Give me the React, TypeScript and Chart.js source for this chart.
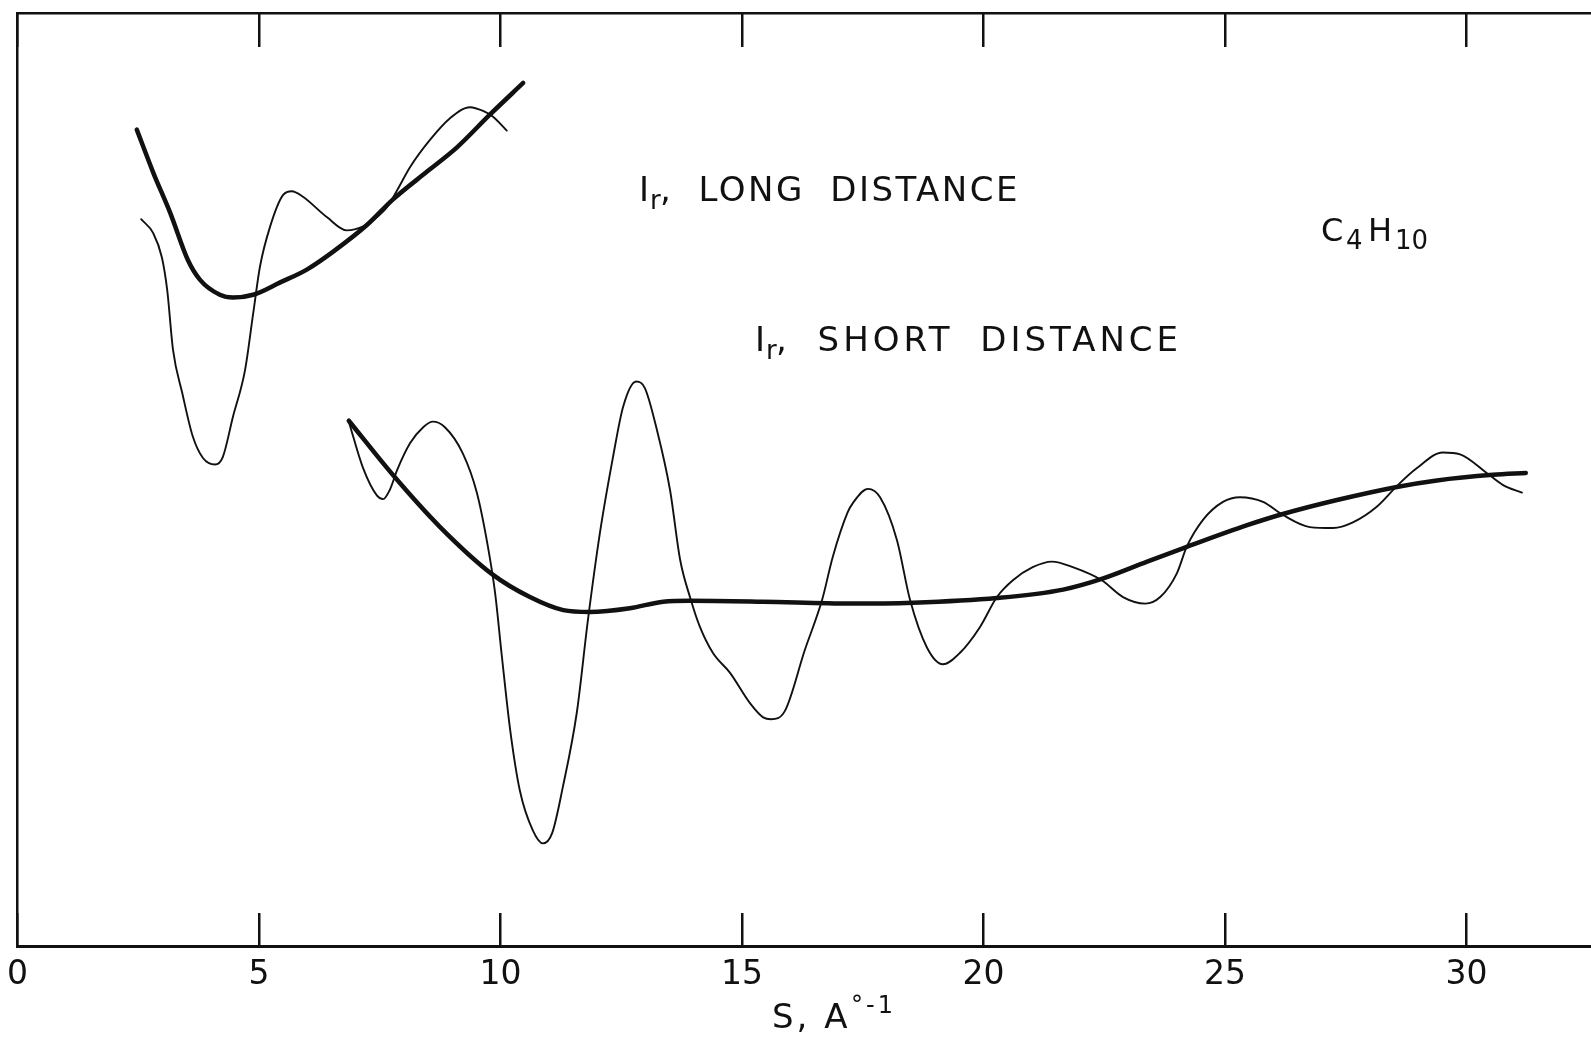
import React, { useEffect, useRef } from 'react';
import { Chart, registerables } from 'chart.js';

Chart.register(...registerables);

// x axis: S (A^-1); y axis: relative intensity (arbitrary units, no ticks)
const xTickValues = [0, 5, 10, 15, 20, 25, 30];
const xTickLabels = ['0', '5', '10', '15', '20', '25', '30'];

// I_r, long distance — smooth (thick) background curve
const longThickS = [2.47, 2.81, 3.16, 3.53, 3.78, 4.19, 4.46, 4.88, 5.43, 5.99, 6.53, 7.24, 7.77, 8.48, 9.10, 9.78, 10.47];
const longThickI = [87.5, 82.9, 78.6, 73.5, 71.4, 69.8, 69.5, 69.8, 71.1, 72.5, 74.4, 77.3, 80.0, 83.0, 85.6, 89.1, 92.5];

// I_r, long distance — observed (thin) curve
const longThinS = [2.56, 2.81, 2.99, 3.10, 3.22, 3.41, 3.63, 3.84, 4.09, 4.25, 4.46, 4.71, 4.88, 5.02, 5.23, 5.50, 5.68, 5.91, 6.41, 6.82, 7.15, 7.36, 7.65, 7.86, 8.13, 8.54, 8.95, 9.37, 9.64, 9.84, 10.13];
const longThinI = [77.9, 76.4, 73.8, 70.3, 63.9, 59.3, 54.6, 52.3, 51.6, 52.4, 56.7, 61.7, 67.8, 72.8, 77.1, 80.5, 80.9, 80.3, 78.1, 76.7, 77.1, 77.8, 79.2, 81.0, 83.5, 86.4, 88.7, 89.9, 89.5, 88.9, 87.4];

// I_r, short distance — observed (thin) curve
const shortThinS = [6.86, 7.15, 7.44, 7.57, 7.71, 7.86, 8.13, 8.40, 8.60, 8.85, 9.22, 9.51, 9.74, 9.89, 10.03, 10.20, 10.40, 10.67, 10.88, 11.07, 11.29, 11.58, 11.81, 12.06, 12.33, 12.54, 12.81, 12.99, 13.24, 13.51, 13.72, 13.93, 14.13, 14.40, 14.75, 15.17, 15.44, 15.60, 15.89, 16.30, 16.66, 16.88, 17.19, 17.30, 17.61, 17.86, 18.21, 18.48, 18.83, 19.16, 19.51, 19.93, 20.28, 20.61, 21.02, 21.42, 21.85, 22.45, 22.89, 23.35, 23.66, 24.01, 24.21, 24.55, 24.96, 25.31, 25.79, 26.20, 26.76, 27.24, 27.65, 28.15, 28.58, 28.97, 29.51, 29.87, 30.42, 30.76, 31.15];
const shortThinI = [56.2, 51.3, 48.3, 47.9, 48.9, 51.0, 53.9, 55.6, 56.2, 55.6, 52.8, 48.6, 42.8, 37.8, 31.0, 23.2, 16.7, 12.4, 11.0, 12.1, 17.0, 25.0, 34.9, 44.3, 52.4, 57.8, 60.5, 59.8, 55.3, 48.9, 41.4, 37.3, 34.2, 31.4, 29.3, 26.0, 24.5, 24.3, 25.2, 31.7, 37.1, 41.7, 46.5, 47.5, 49.0, 48.1, 43.5, 37.1, 32.0, 30.2, 31.4, 34.2, 37.4, 39.2, 40.6, 41.2, 40.6, 39.2, 37.4, 36.7, 37.4, 40.0, 42.8, 45.7, 47.6, 48.1, 47.6, 46.2, 44.9, 44.8, 45.4, 47.1, 49.4, 51.2, 52.9, 52.7, 50.7, 49.4, 48.6];

// I_r, short distance — smooth (thick) background curve
const shortThickS = [6.86, 7.77, 8.75, 9.84, 10.61, 11.30, 11.85, 12.68, 13.37, 13.92, 15.43, 17.24, 18.54, 20.28, 21.65, 22.48, 23.39, 24.17, 25.46, 26.20, 27.32, 28.56, 29.39, 30.55, 31.23];
const shortThickI = [56.3, 50.5, 44.9, 39.8, 37.4, 36.0, 35.8, 36.2, 36.9, 37.0, 36.9, 36.7, 36.8, 37.3, 38.2, 39.4, 41.2, 42.7, 45.1, 46.3, 47.8, 49.2, 49.9, 50.5, 50.7];

const INK = '#111111';
const FONT = '"DejaVu Sans", sans-serif';

const toPoints = (xs: number[], ys: number[]) => xs.map((x, i) => ({ x, y: ys[i] }));

const textPlugin = {
  id: 'figureText',
  afterDraw(chart: any) {
    const ctx = chart.ctx as CanvasRenderingContext2D & { letterSpacing?: string; wordSpacing?: string };
    ctx.save();
    ctx.fillStyle = INK;
    ctx.textAlign = 'left';
    ctx.textBaseline = 'alphabetic';
    const put = (t: string, x: number, y: number, size: number, ls = 0, ws = 0) => {
      ctx.font = `${size}px ${FONT}`;
      ctx.letterSpacing = `${ls}px`;
      ctx.wordSpacing = `${ws}px`;
      ctx.fillText(t, x, y);
    };
    // I_r, LONG DISTANCE
    put('I', 639, 201, 34);
    put('r', 650, 209, 26);
    put(', LONG DISTANCE', 660, 201, 34, 2.5, 12);
    // I_r, SHORT DISTANCE
    put('I', 755, 351, 34);
    put('r', 766, 359, 26);
    put(', SHORT DISTANCE', 776, 351, 34, 4, 12);
    // C4H10
    put('C', 1321, 241, 32);
    put('4', 1346, 249, 26);
    put('H', 1368, 241, 32);
    put('10', 1395, 249, 26);
    // axis title S, A°-1
    put('S, A', 772, 1028, 34, 3);
    put('°-1', 851, 1013, 24, 3);
    ctx.restore();
  },
};

export default function App() {
  const canvasRef = useRef<HTMLCanvasElement | null>(null);

  useEffect(() => {
    const canvas = canvasRef.current;
    if (!canvas) return;
    const lineBase = {
      borderColor: INK,
      pointRadius: 0,
      fill: false,
      cubicInterpolationMode: 'monotone' as const,
      borderCapStyle: 'round' as const,
      borderJoinStyle: 'round' as const,
      xAxisID: 'x',
      yAxisID: 'y',
    };
    const tickSetter = (scale: any) => {
      scale.ticks = xTickValues.map((v) => ({ value: v }));
    };
    const chart = new Chart(canvas, {
      type: 'line',
      data: {
        datasets: [
          { ...lineBase, label: 'I_r long distance (observed)', data: toPoints(longThinS, longThinI), borderWidth: 1.9 },
          { ...lineBase, label: 'I_r long distance (background)', data: toPoints(longThickS, longThickI), borderWidth: 4.5 },
          { ...lineBase, label: 'I_r short distance (observed)', data: toPoints(shortThinS, shortThinI), borderWidth: 1.9 },
          { ...lineBase, label: 'I_r short distance (background)', data: toPoints(shortThickS, shortThickI), borderWidth: 4.5 },
        ],
      },
      options: {
        animation: false,
        responsive: false,
        maintainAspectRatio: false,
        devicePixelRatio: 1,
        layout: { padding: 0 },
        plugins: { legend: { display: false }, tooltip: { enabled: false } },
        scales: {
          x: {
            type: 'linear',
            position: 'bottom',
            min: 0,
            max: 32.58,
            afterBuildTicks: tickSetter,
            afterFit: (s: any) => { s.height = 94; },
            grid: { display: true, drawOnChartArea: false, drawTicks: true, tickLength: -33, color: INK, lineWidth: 2.5 },
            border: { display: true, color: INK, width: 3 },
            ticks: {
              padding: 0,
              autoSkip: false,
              maxRotation: 0,
              color: INK,
              font: { family: FONT, size: 33, lineHeight: '124px' },
              callback: (v: any) => {
                const i = xTickValues.indexOf(Number(v));
                return i >= 0 ? xTickLabels[i] : '';
              },
            },
          },
          x2: {
            type: 'linear',
            position: 'top',
            min: 0,
            max: 32.58,
            afterBuildTicks: tickSetter,
            afterFit: (s: any) => { s.height = 13; },
            grid: { display: true, drawOnChartArea: false, drawTicks: true, tickLength: -34, color: INK, lineWidth: 2.5 },
            border: { display: true, color: INK, width: 2.5 },
            ticks: { display: false, padding: 0 },
          },
          y: {
            type: 'linear',
            min: 0,
            max: 100,
            afterFit: (s: any) => { s.width = 17.5; },
            grid: { display: false },
            border: { display: true, color: INK, width: 2.5 },
            ticks: { display: false, padding: 0 },
          },
        },
      },
      plugins: [textPlugin],
    } as any);
    return () => chart.destroy();
  }, []);

  return (
    <div style={{ position: 'fixed', left: 0, top: 0, width: 1591, height: 1040, background: '#ffffff' }}>
      <canvas ref={canvasRef} width={1591} height={1040} style={{ display: 'block', width: 1591, height: 1040 }} />
    </div>
  );
}
